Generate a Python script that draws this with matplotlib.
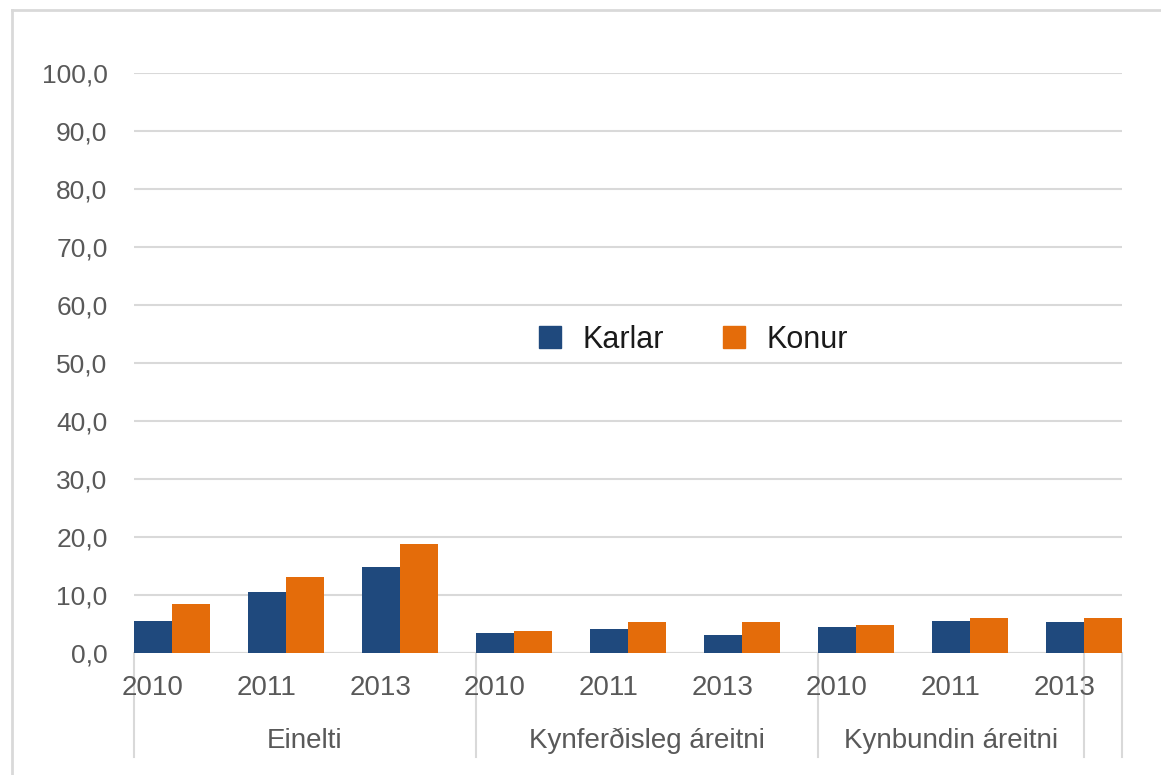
import matplotlib.pyplot as plt
from matplotlib.lines import Line2D

plt.rcParams['font.family'] = ['Liberation Sans', 'DejaVu Sans']

years = ['2010', '2011', '2013']
groups = ['Einelti', 'Kynferðisleg áreitni', 'Kynbundin áreitni']
karlar = [5.4, 10.4, 14.8, 3.3, 4.0, 3.1, 4.4, 5.4, 5.2]
konur = [8.3, 13.0, 18.7, 3.7, 5.3, 5.3, 4.7, 6.0, 6.0]

blue = '#1F497D'
orange = '#E46C0A'
grid = '#D9D9D9'
txt = '#595959'

W, H = 1161, 775
fig = plt.figure(figsize=(W / 100, H / 100), dpi=100)
ax = fig.add_axes([134 / W, 1 - 652.5 / H, (1122 - 134) / W, (652.5 - 73.3) / H])

n = len(karlar)
x = list(range(n))
bw = 1 / 3
ax.bar(x, karlar, width=bw, align='edge', color=blue, zorder=3)
ax.bar([i + bw for i in x], konur, width=bw, align='edge', color=orange, zorder=3)

ax.set_xlim(0, (1122 - 134) / 114)
ax.set_ylim(0, 100)
ax.set_yticks(range(0, 101, 10))
ax.set_yticklabels([f'{v},0' for v in range(0, 101, 10)], fontsize=19, color=txt)
ax.tick_params(axis='y', length=0, pad=19)
ax.set_xticks([])
ax.grid(axis='y', color=grid, linewidth=1.5, zorder=0)
for s in ax.spines.values():
    s.set_visible(False)
ax.axhline(0, color=grid, linewidth=1.5, zorder=2)

# category axis: year labels and group labels
trans = ax.get_xaxis_transform()
ylab = -(688 - 652.5) / (652.5 - 73.3)
glab = -(741 - 652.5) / (652.5 - 73.3)
sep_bottom = -(757 - 652.5) / (652.5 - 73.3)
for i in x:
    ax.text(i + 0.167, ylab, years[i % 3], transform=trans, ha='center', va='center',
            fontsize=20, color=txt)

seps = [0, 3, 6, (1084 - 134) / 114, (1122 - 134) / 114]
for s in seps:
    ax.plot([s, s], [0, sep_bottom], transform=trans, color=grid, linewidth=1.5, clip_on=False)
for g, name in enumerate(groups):
    ax.text((seps[g] + seps[g + 1]) / 2, glab, name, transform=trans, ha='center', va='center',
            fontsize=20, color=txt)

handles = [Line2D([], [], marker='s', ls='', markersize=16, color=blue, label='Karlar'),
           Line2D([], [], marker='s', ls='', markersize=16, color=orange, label='Konur')]
leg = fig.legend(handles=handles, loc='center', bbox_to_anchor=(691.5 / W, 1 - 340 / H),
                 ncol=2, frameon=False, fontsize=22, handlelength=1, handletextpad=0.55,
                 columnspacing=1.8)
for t in leg.get_texts():
    t.set_color('#1a1a1a')

# chart border (left and top only visible)
fig.add_artist(Line2D([12 / W, 12 / W], [0, 1 - 10 / H], color=grid, linewidth=2))
fig.add_artist(Line2D([12 / W, 1], [1 - 10 / H, 1 - 10 / H], color=grid, linewidth=2))

fig.savefig('out.png', dpi=100)
